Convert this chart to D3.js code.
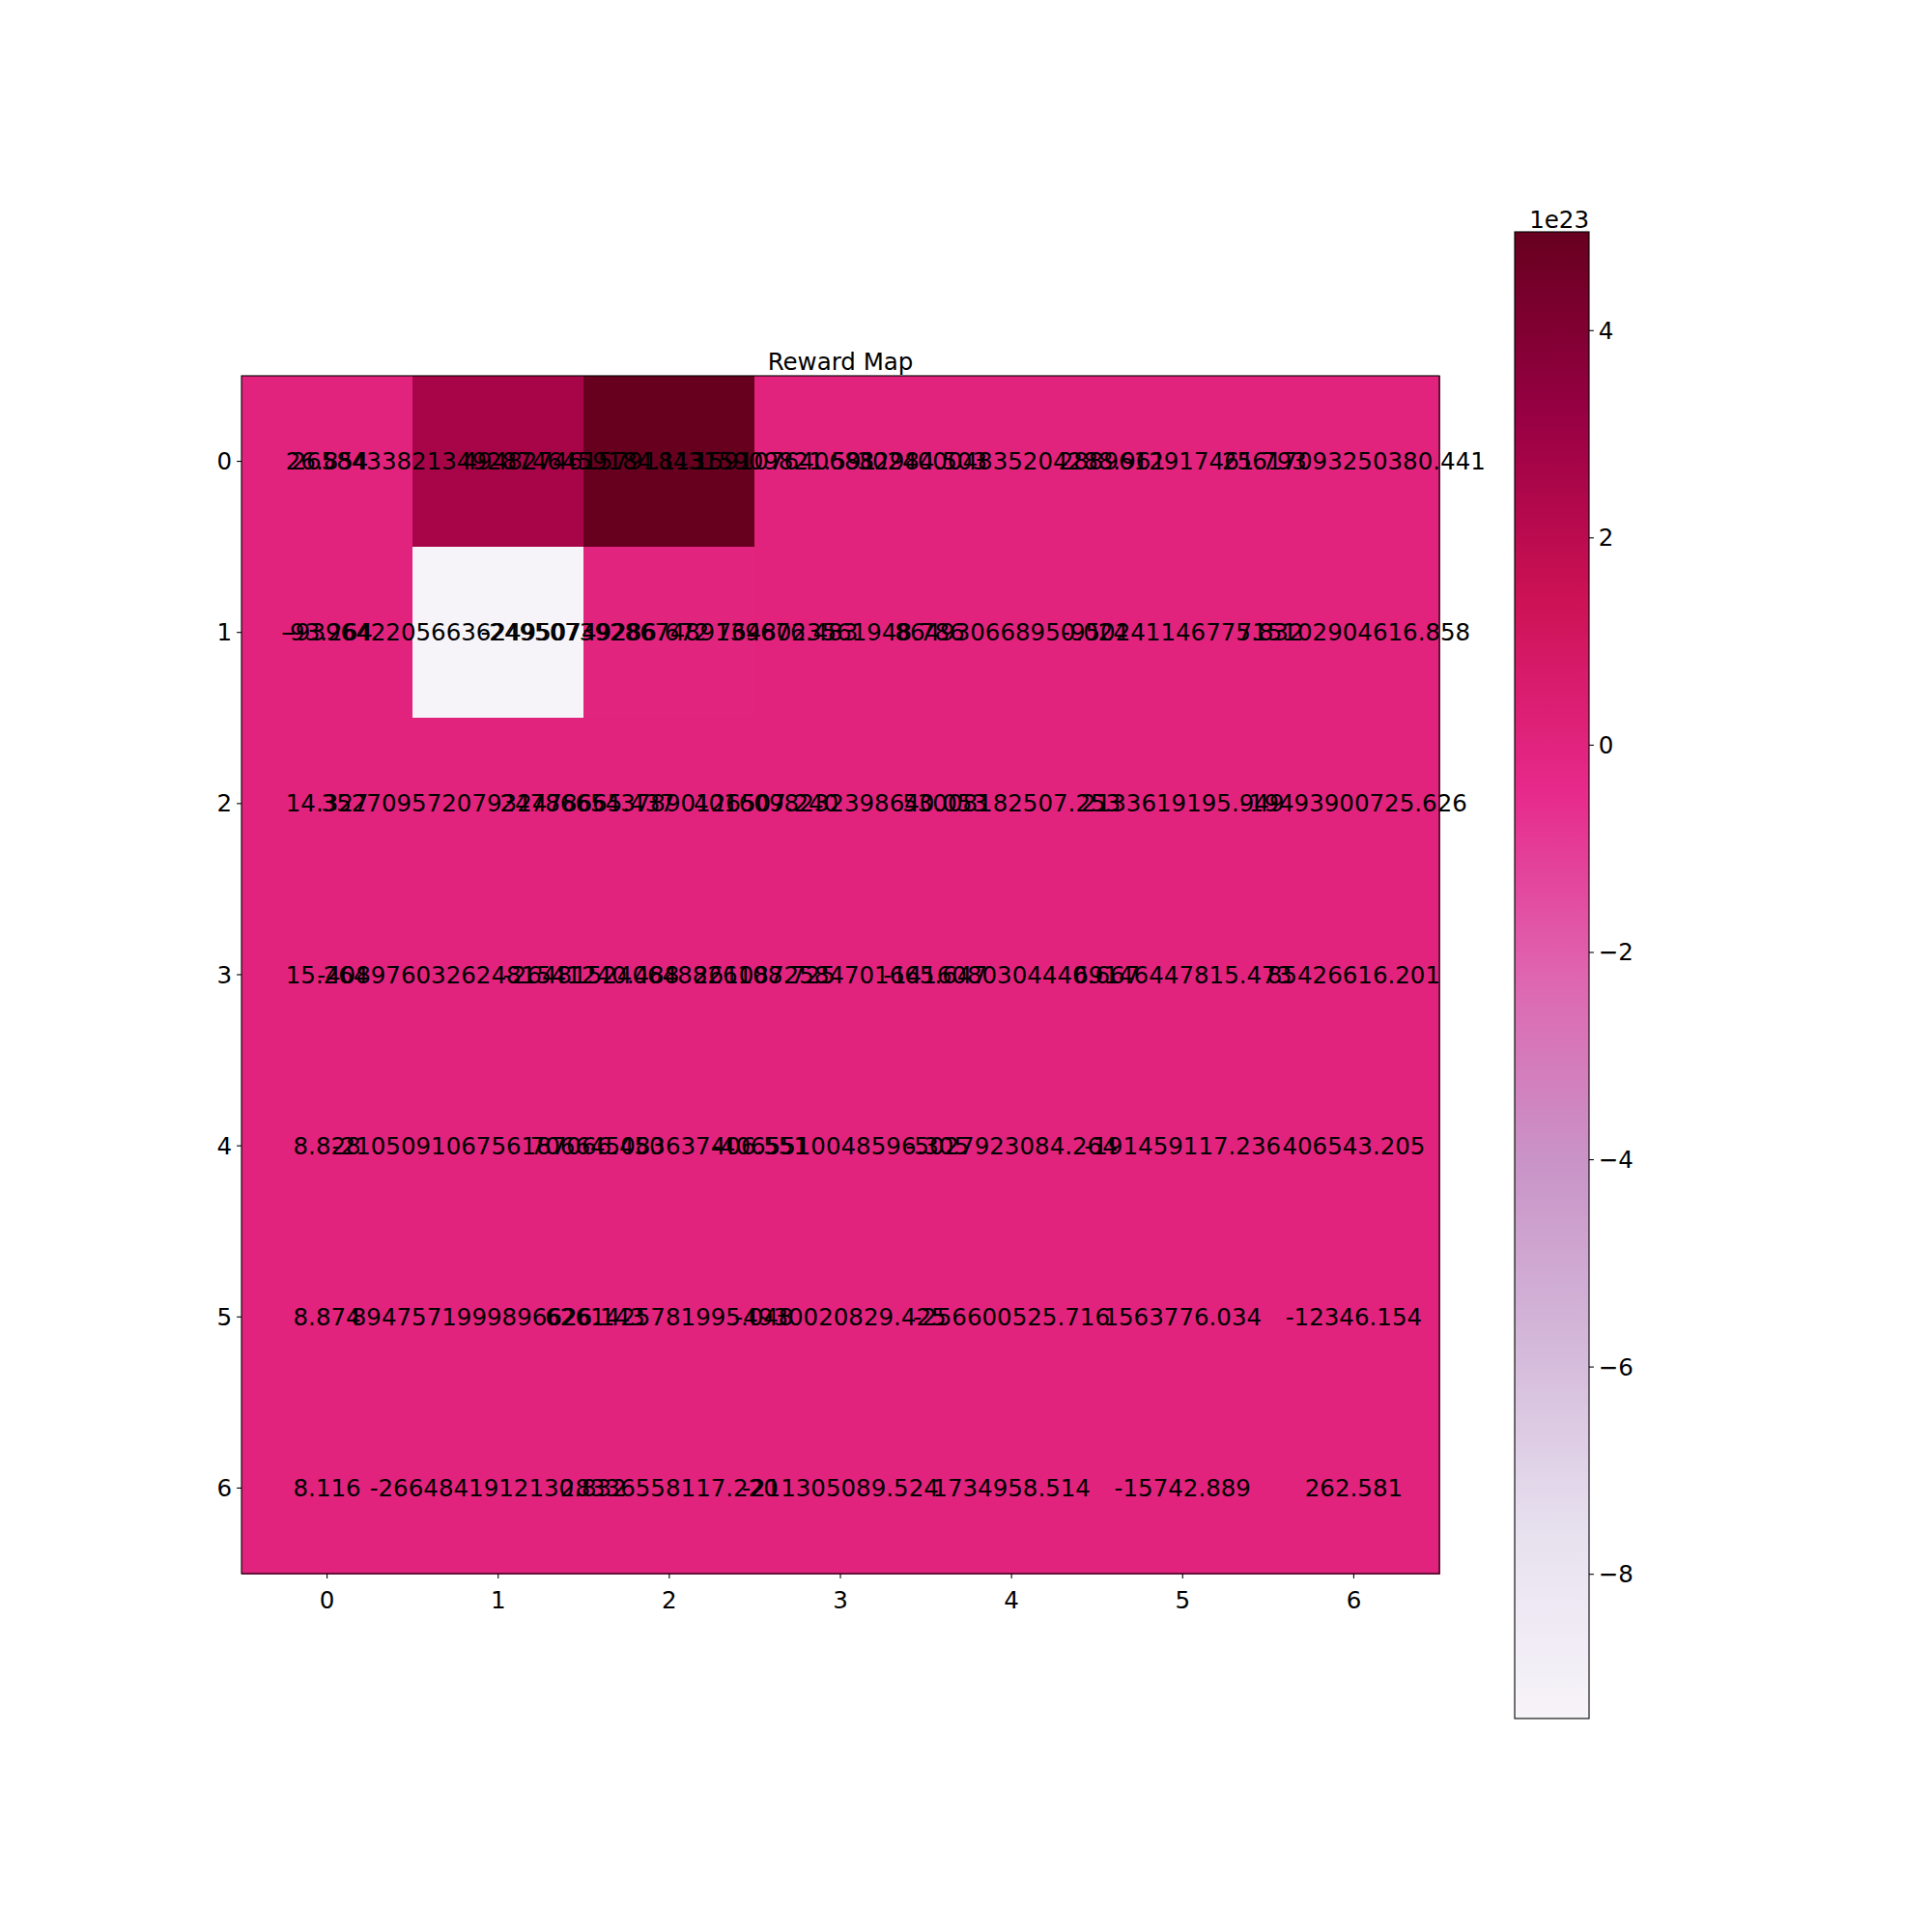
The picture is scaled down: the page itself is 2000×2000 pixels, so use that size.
<!DOCTYPE html>
<html><head><meta charset="utf-8">
<script src="https://cdn.jsdelivr.net/npm/d3@7"></script>
<style>body{margin:0;background:#fff}</style>
</head><body>
<svg id="chart" width="2000" height="2000" xmlns="http://www.w3.org/2000/svg"></svg>
<script>
// ---- data ----
const title = "Reward Map";
const xCategories = ["0","1","2","3","4","5","6"];
const yCategories = ["0","1","2","3","4","5","6"];
const row0Labels = ["26.854","265843382134928746459184.113","494827461579184315909821.591","1591076406882984.503","30240004835204288.961","2889612917461.793","25617093250380.441"];
const row1Labels = ["-93.264","-939642205663624950749286.672","-249507392867489139676.483","7648023561948.786","864930668950.024","-950241146775.832","715102904616.858"];
const row2Labels = ["14.327","35270957207932478665.437","2478665437890126507.240","4016098232398640.053","53008182507.253","2133619195.949","-19493900725.626"];
const row3Labels = ["15.264","-40897603262481541240.488","-264815240648826108.725","2610872584701665.647","-1416080304440.667","69146447815.473","85426616.201"];
const row4Labels = ["8.828","-210509106756187066.450","706645083637406.551","-4065510048596.305","-5027923084.264","-191459117.236","406543.205"];
const row5Labels = ["8.874","8947571999896626.143","6261425781995.048","-4930020829.425","-256600525.716","1563776.034","-12346.154"];
const row6Labels = ["8.116","-2664841912130.832","28336558117.220","-211305089.524","1734958.514","-15742.889","262.581"];
const colorbarTicks = [-8,-6,-4,-2,0,2,4];
const colorbarTickLabels = ["\u22128","\u22126","\u22124","\u22122","0","2","4"];
const colorbarExponent = 23;
const palette = ["#f7f4f9","#e7e1ef","#d4b9da","#c994c7","#df65b0","#e7298a","#ce1256","#980043","#67001f"];

// ---- build ----
const grid = [row0Labels,row1Labels,row2Labels,row3Labels,row4Labels,row5Labels,row6Labels];
const cells = [];
grid.forEach((row,i)=>row.forEach((lab,j)=>cells.push({r:yCategories[i],c:xCategories[j],label:lab,value:Number(lab)})));
const vmin = d3.min(cells,d=>d.value), vmax = d3.max(cells,d=>d.value);

const FONT = "DejaVu Sans";
const FS = 24.5;
const L=250, R=1490, T=389, B=1629;
const svg = d3.select("#chart");
svg.append("rect").attr("width",2000).attr("height",2000).attr("fill","#fff");

const x = d3.scaleBand().domain(xCategories).range([L,R]);
const y = d3.scaleBand().domain(yCategories).range([T,B]);
const interp = d3.piecewise(d3.interpolateRgb, palette);
const color = d3.scaleSequential(interp).domain([vmin,vmax]);

svg.append("g").selectAll("rect").data(cells).join("rect")
  .attr("x",d=>x(d.c)).attr("y",d=>y(d.r))
  .attr("width",x.bandwidth()+0.5).attr("height",y.bandwidth()+0.5)
  .attr("fill",d=>color(d.value)).attr("shape-rendering","crispEdges");

svg.append("rect").attr("x",L).attr("y",T).attr("width",R-L).attr("height",B-T)
  .attr("fill","none").attr("stroke","#000").attr("stroke-width",1.1);

const tickLen = 4.9, tickPad = 4.9;
const ax = svg.append("g").attr("transform",`translate(0,${B})`)
  .call(d3.axisBottom(x).tickSize(tickLen).tickPadding(tickPad));
const ay = svg.append("g").attr("transform",`translate(${L},0)`)
  .call(d3.axisLeft(y).tickSize(tickLen).tickPadding(tickPad));
[ax,ay].forEach(g=>{
  g.select(".domain").remove();
  g.selectAll("line").attr("stroke","#000").attr("stroke-width",1.1);
  g.selectAll("text").attr("font-family",FONT).attr("font-size",FS).attr("fill","#000");
});
ax.selectAll("text").attr("dy",null).attr("y",null).attr("dominant-baseline","central").attr("transform","translate(0,27)");
ay.selectAll("text").attr("dy",null).attr("dominant-baseline","central");

svg.append("g").selectAll("text").data(cells).join("text")
  .attr("x",d=>x(d.c)+x.bandwidth()/2).attr("y",d=>y(d.r)+y.bandwidth()/2)
  .attr("text-anchor","middle").attr("dominant-baseline","central")
  .attr("font-family",FONT).attr("font-size",FS).attr("fill","#000")
  .text(d=>d.label);

svg.append("text").attr("x",(L+R)/2).attr("y",T-6).attr("text-anchor","middle")
  .attr("font-family",FONT).attr("font-size",FS).attr("fill","#000").text(title);

// ---- colorbar ----
const CL=1568, CR=1645, CT=240, CB=1779;
const defs = svg.append("defs");
const grad = defs.append("linearGradient").attr("id","cbg").attr("x1",0).attr("y1",1).attr("x2",0).attr("y2",0);
d3.range(0,1.0001,0.01).forEach(t=>grad.append("stop").attr("offset",t).attr("stop-color",interp(t)));
svg.append("rect").attr("x",CL).attr("y",CT).attr("width",CR-CL).attr("height",CB-CT)
  .attr("fill","url(#cbg)").attr("stroke","#000").attr("stroke-width",1.1);
const cy = d3.scaleLinear().domain([vmin,vmax]).range([CB,CT]);
const scaleF = Math.pow(10,colorbarExponent);
const ac = svg.append("g").attr("transform",`translate(${CR},0)`)
  .call(d3.axisRight(cy).tickValues(colorbarTicks.map(v=>v*scaleF))
    .tickFormat((v,i)=>colorbarTickLabels[i]).tickSize(tickLen).tickPadding(tickPad));
ac.select(".domain").remove();
ac.selectAll("line").attr("stroke","#000").attr("stroke-width",1.1);
ac.selectAll("text").attr("font-family",FONT).attr("font-size",FS).attr("fill","#000")
  .attr("dy",null).attr("dominant-baseline","central");
svg.append("text").attr("x",CR).attr("y",236).attr("text-anchor","end")
  .attr("font-family",FONT).attr("font-size",FS).attr("fill","#000").text("1e" + colorbarExponent);
</script>
</body></html>
